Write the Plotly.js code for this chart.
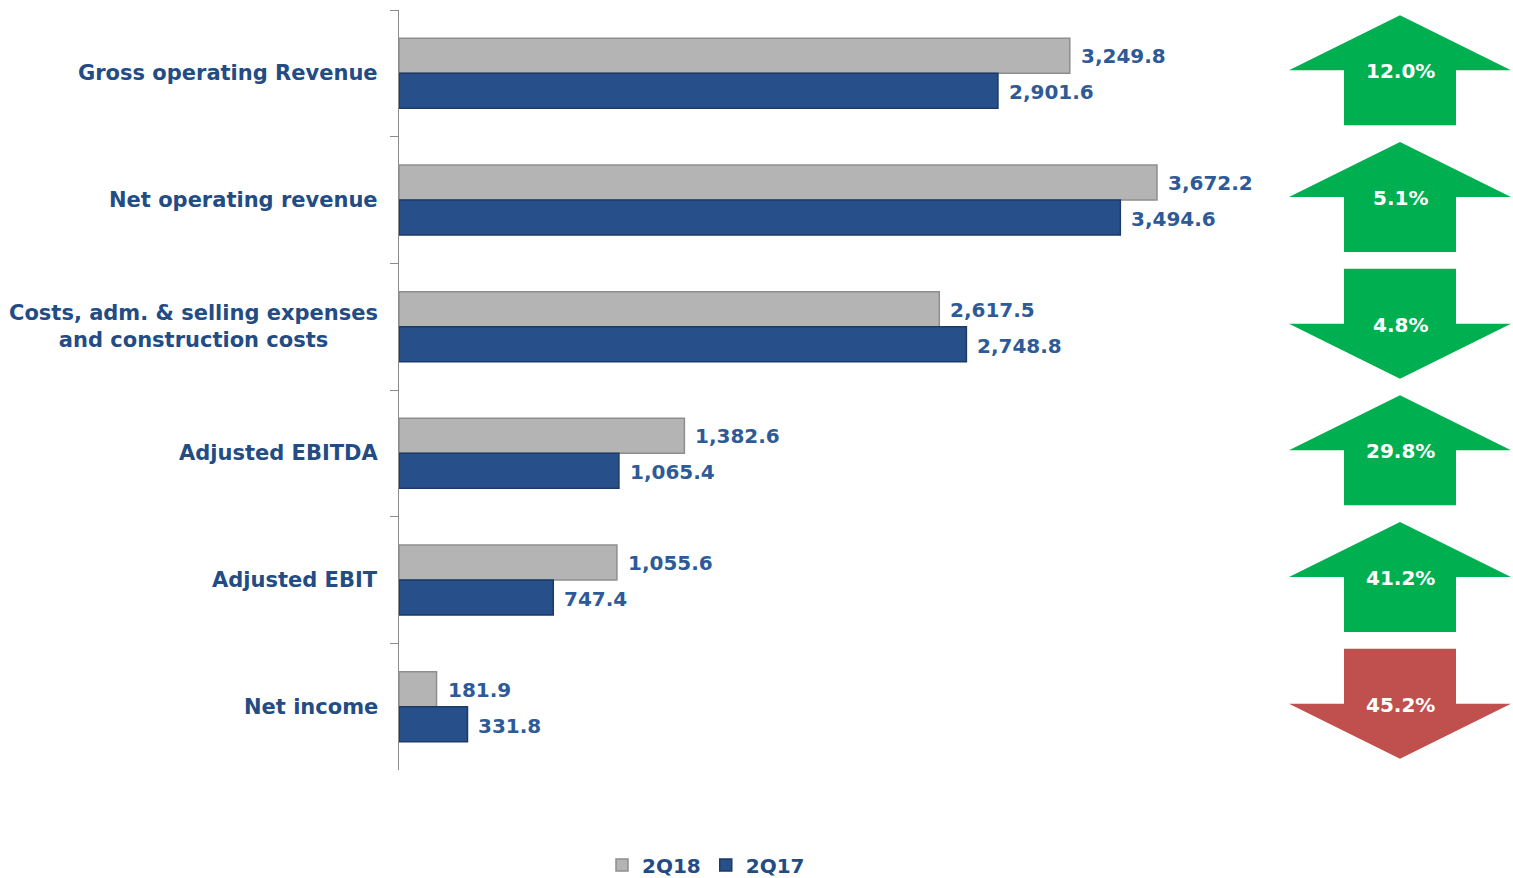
<!DOCTYPE html>
<html>
<head>
<meta charset="utf-8">
<script src="https://cdn.plot.ly/plotly-3.0.1.min.js"></script>
<style>
html,body{margin:0;padding:0;background:#fff;}
#chart{width:1513px;height:878px;}
</style>
</head>
<body>
<div id="chart"></div>
<script>
// ---- data ----
const categories = [
  "Gross operating Revenue",
  "Net operating revenue",
  "Costs, adm. & selling expenses<br>and construction costs",
  "Adjusted EBITDA",
  "Adjusted EBIT",
  "Net income"
];
const series2Q18 = [3249.8, 3672.2, 2617.5, 1382.6, 1055.6, 181.9];
const series2Q17 = [2901.6, 3494.6, 2748.8, 1065.4, 747.4, 331.8];
const seriesNames = ["2Q18", "2Q17"];
const changePct = [12.0, 5.1, 4.8, 29.8, 41.2, 45.2];
const changeDir = ["up", "up", "down", "up", "up", "down"];
const changeGood = [true, true, true, true, true, false];

// ---- styling / layout helpers ----
const W = 1513, H = 878;
const M = {l: 399, r: 0, t: 10, b: 108};
const plotW = W - M.l - M.r, plotH = H - M.t - M.b;
const pxX = x => (x - M.l) / plotW;
const pxY = y => (H - M.b - y) / plotH;
const catCenterPx = i => M.t + (i + 0.5) * plotH / categories.length;

const labelColor = "#234C84";
const valueColor = "#2E5A97";
const fontFam = "DejaVu Sans, Verdana, sans-serif";
const FS = 20;

const traces = [
  {
    type: "bar", orientation: "h", name: seriesNames[0],
    y: categories, x: series2Q18,
    marker: {color: "#B4B4B4", line: {color: "#8E8E8E", width: 1.5}},
    hoverinfo: "x"
  },
  {
    type: "bar", orientation: "h", name: seriesNames[1],
    y: categories, x: series2Q17,
    marker: {color: "#27508A", line: {color: "#1C3A66", width: 1.5}},
    hoverinfo: "x"
  }
];

const fmt = v => v.toLocaleString("en-US", {minimumFractionDigits: 1, maximumFractionDigits: 1});

const annotations = [];
// category labels
categories.forEach((c, i) => {
  annotations.push({
    xref: "paper", yref: "paper", x: 0, y: pxY(catCenterPx(i)),
    xanchor: "right", yanchor: "middle", xshift: -19,
    text: "<b>" + c + "</b>", showarrow: false, align: "center",
    font: {family: fontFam, size: 21, color: labelColor}
  });
});
// value labels
[series2Q18, series2Q17].forEach((s, k) => {
  s.forEach((v, i) => {
    annotations.push({
      xref: "x", yref: "paper", x: v, y: pxY(catCenterPx(i) + (k === 0 ? -17 : 19)),
      xanchor: "left", yanchor: "middle", xshift: 9,
      text: "<b>" + fmt(v) + "</b>", showarrow: false,
      font: {family: fontFam, size: FS, color: valueColor}
    });
  });
});

// arrows
const shapes = [];
const arrowCX = 1400, headHalf = 111, shaftHalf = 56, halfH = 55;
changePct.forEach((p, i) => {
  const cy = catCenterPx(i) - 3;
  const top = cy - halfH, bot = cy + halfH;
  let pts;
  if (changeDir[i] === "up") {
    pts = [[arrowCX, top], [arrowCX + headHalf, cy], [arrowCX + shaftHalf, cy],
           [arrowCX + shaftHalf, bot], [arrowCX - shaftHalf, bot], [arrowCX - shaftHalf, cy],
           [arrowCX - headHalf, cy]];
  } else {
    pts = [[arrowCX - shaftHalf, top], [arrowCX + shaftHalf, top], [arrowCX + shaftHalf, cy],
           [arrowCX + headHalf, cy], [arrowCX, bot], [arrowCX - headHalf, cy],
           [arrowCX - shaftHalf, cy]];
  }
  const path = "M" + pts.map(q => pxX(q[0]).toFixed(5) + "," + pxY(q[1]).toFixed(5)).join(" L") + " Z";
  const col = changeGood[i] ? "#00B050" : "#C0504D";
  shapes.push({type: "path", xref: "paper", yref: "paper", path: path,
               fillcolor: col, line: {width: 0}, layer: "above"});
  annotations.push({
    xref: "paper", yref: "paper", x: pxX(arrowCX), y: pxY(cy + 1),
    xanchor: "center", yanchor: "middle", showarrow: false,
    text: "<b>" + p.toFixed(1) + "%</b>",
    font: {family: fontFam, size: FS, color: "#FFFFFF"}
  });
});

const layout = {
  width: W, height: H,
  margin: M,
  paper_bgcolor: "#FFFFFF", plot_bgcolor: "rgba(0,0,0,0)",
  barmode: "group", bargap: 0.447, bargroupgap: 0,
  xaxis: {range: [0, plotW / (758 / 3672.2)], showgrid: false, zeroline: false,
          showticklabels: false, showline: false, ticks: "", fixedrange: true},
  yaxis: {autorange: "reversed", type: "category", showticklabels: false,
          showline: true, linecolor: "#8C8C8C", linewidth: 1.2,
          ticks: "outside", tickson: "boundaries", ticklen: 8, tickcolor: "#8C8C8C",
          showgrid: false, zeroline: false},
  showlegend: true,
  legend: {orientation: "h", xref: "container", yref: "container",
           x: 706 / W, xanchor: "center", y: (H - 865) / H, yanchor: "middle",
           font: {family: fontFam, size: FS, color: labelColor, weight: "bold"},
           itemwidth: 30, traceorder: "normal"},
  shapes: shapes,
  annotations: annotations,
  font: {family: fontFam}
};

Plotly.newPlot("chart", traces, layout, {staticPlot: true, displayModeBar: false});
</script>
</body>
</html>
